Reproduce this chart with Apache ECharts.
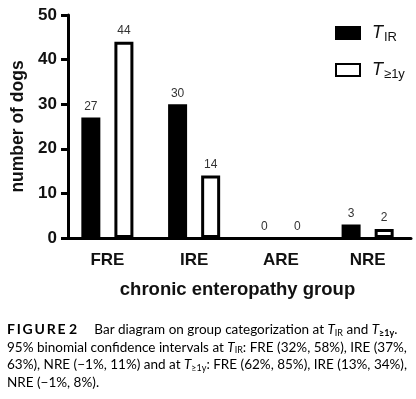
<!DOCTYPE html>
<html>
<head>
<meta charset="utf-8">
<script src="https://cdn.jsdelivr.net/npm/echarts@6/dist/echarts.min.js"></script>
<style>
html,body{margin:0;padding:0;background:#fff;}
#chart{width:416px;height:399px;}
</style>
</head>
<body>
<div id="chart"></div>
<script>
// categories and counts per time point
var groups = ['FRE', 'IRE', 'ARE', 'NRE'];
var countIR = [27, 30, 0, 3];
var count1y = [44, 14, 0, 2];
var yTicks = {min: 0, max: 50, interval: 10};

var myChart = echarts.init(document.getElementById('chart'));

var axisFont = 'Liberation Sans';
var capFont = 'Lato';

// zero bars: no outline, otherwise the border sits on the axis
function toItems(arr) {
	return arr.map(function (v) {
		return v === 0 ? {value: v, itemStyle: {borderWidth: 0}} : v;
	});
}

var legendRich = {
	t: {fontFamily: axisFont, fontStyle: 'italic', fontSize: 18, color: '#111'},
	s: {fontFamily: axisFont, fontSize: 13, color: '#111', padding: [9, 0, 0, 1]}
};

var capRich = {
	fig: {fontFamily: capFont, fontWeight: 'bold', fontSize: 14, color: '#6b7886'},
	n: {fontFamily: capFont, fontSize: 13.5, color: '#222'},
	i: {fontFamily: capFont, fontStyle: 'italic', fontSize: 13.5, color: '#222'},
	s: {fontFamily: capFont, fontSize: 9, color: '#222', padding: [6, 0, 0, 0]},
	sb: {fontFamily: capFont, fontWeight: 'bold', fontSize: 9, color: '#222', padding: [6, 0, 0, 0]}
};

var caption =
	'{fig|F\u2009I\u2009G\u2009U\u2009R\u2009E\u2009\u20092}{n|     Bar diagram on group categorization at }{i|T}{s|IR}{n| and }{i|T}{sb|≥1y}{n|.}\n' +
	'{n|95% binomial confidence intervals at }{i|T}{s|IR}{n|: FRE (32%, 58%), IRE (37%,}\n' +
	'{n|63%), NRE (−1%, 11%) and at }{i|T}{s|≥1y}{n|: FRE (62%, 85%), IRE (13%, 34%),}\n' +
	'{n|NRE (−1%, 8%).}';

var option = {
	animation: false,
	backgroundColor: '#fff',
	grid: {left: 64, right: 5, top: 15, bottom: 161, outerBoundsMode: 'none'},
	legend: {
		orient: 'vertical',
		left: 335,
		top: 24,
		padding: 0,
		itemWidth: 24,
		itemHeight: 12,
		itemGap: 17,
		icon: 'rect',
		formatter: function (name) {
			return name == 'TIR' ? '{t|T}{s|IR}' : '{t|T}{s|≥1y}';
		},
		textStyle: {rich: legendRich, padding: [0, 0, 0, 7]}
	},
	xAxis: {
		type: 'category',
		data: groups,
		name: 'chronic enteropathy group',
		nameLocation: 'middle',
		nameGap: 42,
		nameTextStyle: {fontFamily: axisFont, fontWeight: 'bold', fontSize: 18.5, color: '#111'},
		axisLine: {lineStyle: {color: '#000', width: 3}},
		axisTick: {alignWithLabel: true, length: 10, lineStyle: {color: '#000', width: 3}},
		axisLabel: {fontFamily: axisFont, fontWeight: 'bold', fontSize: 17, color: '#111', margin: 14}
	},
	yAxis: {
		type: 'value',
		min: yTicks.min,
		max: yTicks.max,
		interval: yTicks.interval,
		offset: -4,
		name: 'number of dogs',
		nameLocation: 'middle',
		nameGap: 38,
		nameTextStyle: {fontFamily: axisFont, fontWeight: 'bold', fontSize: 17.5, color: '#111'},
		axisLine: {show: true, lineStyle: {color: '#000', width: 3}},
		axisTick: {show: true, length: 7, lineStyle: {color: '#000', width: 3}},
		axisLabel: {fontFamily: axisFont, fontWeight: 'bold', fontSize: 17, color: '#111', margin: 11},
		splitLine: {show: false}
	},
	series: [{
		name: 'TIR',
		type: 'bar',
		data: toItems(countIR),
		barWidth: 19,
		barGap: '74%',
		itemStyle: {color: '#000', borderColor: '#000', borderWidth: 3},
		label: {show: true, position: 'top', distance: 5, fontFamily: axisFont, fontSize: 12, color: '#333'}
	}, {
		name: 'T1y',
		type: 'bar',
		data: toItems(count1y),
		barWidth: 19,
		itemStyle: {color: '#fff', borderColor: '#000', borderWidth: 3},
		label: {show: true, position: 'top', distance: 5, fontFamily: axisFont, fontSize: 12, color: '#333'}
	}],
	graphic: [{
		type: 'text',
		left: 7,
		top: 321,
		style: {text: caption, rich: capRich, lineHeight: 17.5}
	}]
};

myChart.setOption(option);
</script>
</body>
</html>
